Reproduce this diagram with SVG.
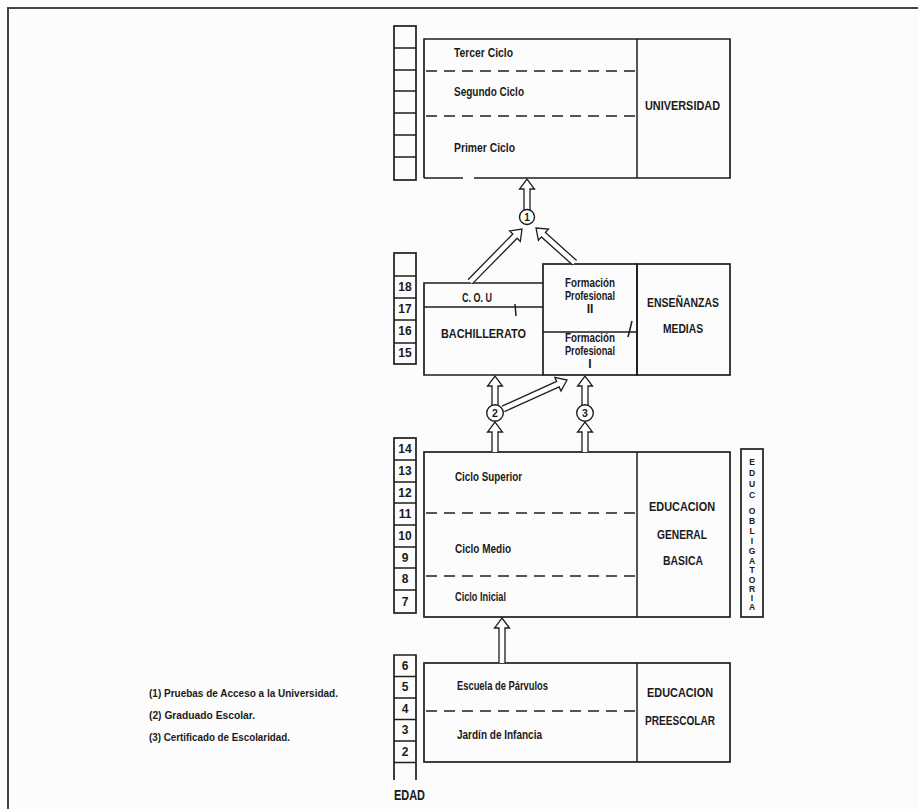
<svg xmlns="http://www.w3.org/2000/svg" width="918" height="809" viewBox="0 0 918 809">
<style>
.bx{fill:none;stroke:#1e1e1e;stroke-width:1.7}
.ln{fill:none;stroke:#1e1e1e;stroke-width:1.5}
.ds{fill:none;stroke:#1e1e1e;stroke-width:1.5;stroke-dasharray:11 7}
.ar{fill:#fff;stroke:#1e1e1e;stroke-width:1.3;stroke-linejoin:miter}
.t{font-family:"Liberation Sans",Arial,sans-serif;font-weight:bold;font-size:12px;fill:#1a1a1a}
.n{font-family:"Liberation Sans",Arial,sans-serif;font-weight:bold;font-size:12px;fill:#1a1a1a;text-anchor:middle}
.v{font-family:"Liberation Sans",Arial,sans-serif;font-weight:bold;font-size:8.5px;fill:#1a1a1a;text-anchor:middle}
.c{fill:#fff;stroke:#1e1e1e;stroke-width:1.4}
</style>
<rect width="918" height="809" fill="#fcfcfc"/>
<path d="M8,809 V8 H918" fill="none" stroke="#444" stroke-width="2"/>

<g id="edad-univ">
<rect class="bx" x="394" y="26" width="22" height="154"/>
<path class="ln" d="M394,48H416M394,70H416M394,91H416M394,113H416M394,135H416M394,157H416"/>
</g>
<g id="universidad">
<path class="bx" d="M424,178 V39 H730 V178 H474 M463,178 H424"/>
<path class="ln" d="M637,39 V178"/>
<path class="ds" d="M426,71 H637 M426,116 H637"/>
<text class="t" x="454" y="57" textLength="59" lengthAdjust="spacingAndGlyphs">Tercer Ciclo</text>
<text class="t" x="454" y="96" textLength="70" lengthAdjust="spacingAndGlyphs">Segundo Ciclo</text>
<text class="t" x="454" y="152" textLength="61" lengthAdjust="spacingAndGlyphs">Primer Ciclo</text>
<text class="t" x="645" y="110" textLength="75" lengthAdjust="spacingAndGlyphs">UNIVERSIDAD</text>
</g>

<g id="edad-medias">
<rect class="bx" x="394" y="253" width="22" height="111"/>
<path class="ln" d="M394,276H416M394,298H416M394,320H416M394,343H416"/>
<text class="n" x="405" y="291">18</text>
<text class="n" x="405" y="313">17</text>
<text class="n" x="405" y="335">16</text>
<text class="n" x="405" y="357">15</text>
</g>
<g id="bachillerato">
<path class="bx" d="M543,283 H424 V375 H543"/>
<path class="ln" d="M424,307 H543"/>
<path class="ln" d="M515,304 L516,316"/>
<text class="t" x="462" y="302" textLength="30" lengthAdjust="spacingAndGlyphs">C. O. U</text>
<text class="t" x="441" y="338" textLength="85" lengthAdjust="spacingAndGlyphs">BACHILLERATO</text>
</g>
<g id="formacion-profesional">
<rect class="bx" x="543" y="264" width="94" height="111"/>
<path class="ln" d="M543,332 H637"/>
<path class="ln" d="M632,321 L628,337"/>
<text class="n" x="590" y="287" textLength="50" lengthAdjust="spacingAndGlyphs">Formación</text>
<text class="n" x="590" y="300" textLength="50" lengthAdjust="spacingAndGlyphs">Profesional</text>
<text class="n" x="590" y="313">II</text>
<text class="n" x="590" y="342" textLength="50" lengthAdjust="spacingAndGlyphs">Formación</text>
<text class="n" x="590" y="355" textLength="50" lengthAdjust="spacingAndGlyphs">Profesional</text>
<text class="n" x="590" y="368">I</text>
</g>
<g id="ensenanzas-medias">
<rect class="bx" x="637" y="264" width="93" height="111"/>
<text class="t" x="647" y="307" textLength="72" lengthAdjust="spacingAndGlyphs">ENSEÑANZAS</text>
<text class="t" x="663" y="333" textLength="40" lengthAdjust="spacingAndGlyphs">MEDIAS</text>
</g>

<g id="edad-egb">
<rect class="bx" x="394" y="438" width="22" height="175"/>
<path class="ln" d="M394,460H416M394,482H416M394,503H416M394,525H416M394,547H416M394,568H416M394,590H416"/>
<text class="n" x="405" y="453">14</text>
<text class="n" x="405" y="475">13</text>
<text class="n" x="405" y="497">12</text>
<text class="n" x="405" y="518">11</text>
<text class="n" x="405" y="540">10</text>
<text class="n" x="405" y="562">9</text>
<text class="n" x="405" y="583">8</text>
<text class="n" x="405" y="606">7</text>
</g>
<g id="egb">
<rect class="bx" x="424" y="452" width="306" height="165"/>
<path class="ln" d="M637,452 V617"/>
<path class="ds" d="M426,513 H637 M426,576 H637"/>
<text class="t" x="455" y="481" textLength="67" lengthAdjust="spacingAndGlyphs">Ciclo Superior</text>
<text class="t" x="455" y="553" textLength="56" lengthAdjust="spacingAndGlyphs">Ciclo Medio</text>
<text class="t" x="455" y="601" textLength="51" lengthAdjust="spacingAndGlyphs">Ciclo Inicial</text>
<text class="t" x="649" y="511" textLength="66" lengthAdjust="spacingAndGlyphs">EDUCACION</text>
<text class="t" x="657" y="539" textLength="50" lengthAdjust="spacingAndGlyphs">GENERAL</text>
<text class="t" x="663" y="565" textLength="40" lengthAdjust="spacingAndGlyphs">BASICA</text>
</g>
<g id="educ-obligatoria">
<rect class="bx" x="741" y="449" width="22" height="168"/>
<text class="v" x="752" y="465">E</text>
<text class="v" x="752" y="476">D</text>
<text class="v" x="752" y="487">U</text>
<text class="v" x="752" y="498">C</text>
<text class="v" x="752" y="514">O</text>
<text class="v" x="752" y="524">B</text>
<text class="v" x="752" y="534">L</text>
<text class="v" x="752" y="544">I</text>
<text class="v" x="752" y="554">G</text>
<text class="v" x="752" y="564">A</text>
<text class="v" x="752" y="573">T</text>
<text class="v" x="752" y="583">O</text>
<text class="v" x="752" y="592">R</text>
<text class="v" x="752" y="601">I</text>
<text class="v" x="752" y="610">A</text>
</g>

<g id="edad-preescolar">
<path class="bx" d="M394,780 V655 H416 V780"/>
<path class="ln" d="M394,676.5H416M394,698H416M394,719.5H416M394,741H416M394,762.5H416"/>
<text class="n" x="405" y="670">6</text>
<text class="n" x="405" y="691">5</text>
<text class="n" x="405" y="713">4</text>
<text class="n" x="405" y="734">3</text>
<text class="n" x="405" y="756">2</text>
<text class="t" x="394" y="800" textLength="31" lengthAdjust="spacingAndGlyphs" style="font-size:15px">EDAD</text>
</g>
<g id="preescolar">
<rect class="bx" x="424" y="663" width="306" height="99"/>
<path class="ln" d="M637,663 V762"/>
<path class="ds" d="M426,711 H637"/>
<text class="t" x="457" y="690" textLength="91" lengthAdjust="spacingAndGlyphs">Escuela de Párvulos</text>
<text class="t" x="457" y="739" textLength="85" lengthAdjust="spacingAndGlyphs">Jardín de Infancia</text>
<text class="t" x="647" y="697" textLength="66" lengthAdjust="spacingAndGlyphs">EDUCACION</text>
<text class="t" x="645" y="725" textLength="70" lengthAdjust="spacingAndGlyphs">PREESCOLAR</text>
</g>

<g id="connectors">
<path class="ar" d="M524,210 V189 H519.5 L527,179 L534.5,189 H530 V210"/>
<path class="ar" transform="translate(522,229) rotate(44.5)" d="M-3,74 V10 H-7.5 L0,0 L7.5,10 H3 V74"/>
<path class="ar" transform="translate(536,228) rotate(-48)" d="M-3,52 V10 H-7.5 L0,0 L7.5,10 H3 V52"/>
<path class="ar" d="M492,405 V386 H487.5 L495,376 L502.5,386 H498 V405"/>
<path class="ar" d="M492,452 V432 H487.5 L495,422 L502.5,432 H498 V452"/>
<path class="ar" transform="translate(567,380) rotate(65.6)" d="M-3,70 V10 H-7.5 L0,0 L7.5,10 H3 V70"/>
<path class="ar" d="M582,405 V386 H577.5 L585,376 L592.5,386 H588 V405"/>
<path class="ar" d="M582,452 V432 H577.5 L585,422 L592.5,432 H588 V452"/>
<path class="ar" d="M499,663 V628 H494.5 L502,618 L509.5,628 H505 V663"/>
<circle class="c" cx="527" cy="217" r="7.5"/>
<text class="n" x="527" y="221" style="font-size:10px">1</text>
<circle class="c" cx="495" cy="413" r="8.3"/>
<text class="n" x="495" y="417" style="font-size:10.5px">2</text>
<circle class="c" cx="585" cy="413" r="8.3"/>
<text class="n" x="585" y="417" style="font-size:10.5px">3</text>
</g>

<g id="leyenda">
<text class="t" x="149" y="697" textLength="189" lengthAdjust="spacingAndGlyphs" style="font-size:11px">(1) Pruebas de Acceso a la Universidad.</text>
<text class="t" x="149" y="719" textLength="106" lengthAdjust="spacingAndGlyphs" style="font-size:11px">(2) Graduado Escolar.</text>
<text class="t" x="149" y="741" textLength="141" lengthAdjust="spacingAndGlyphs" style="font-size:11px">(3) Certificado de Escolaridad.</text>
</g>
</svg>
